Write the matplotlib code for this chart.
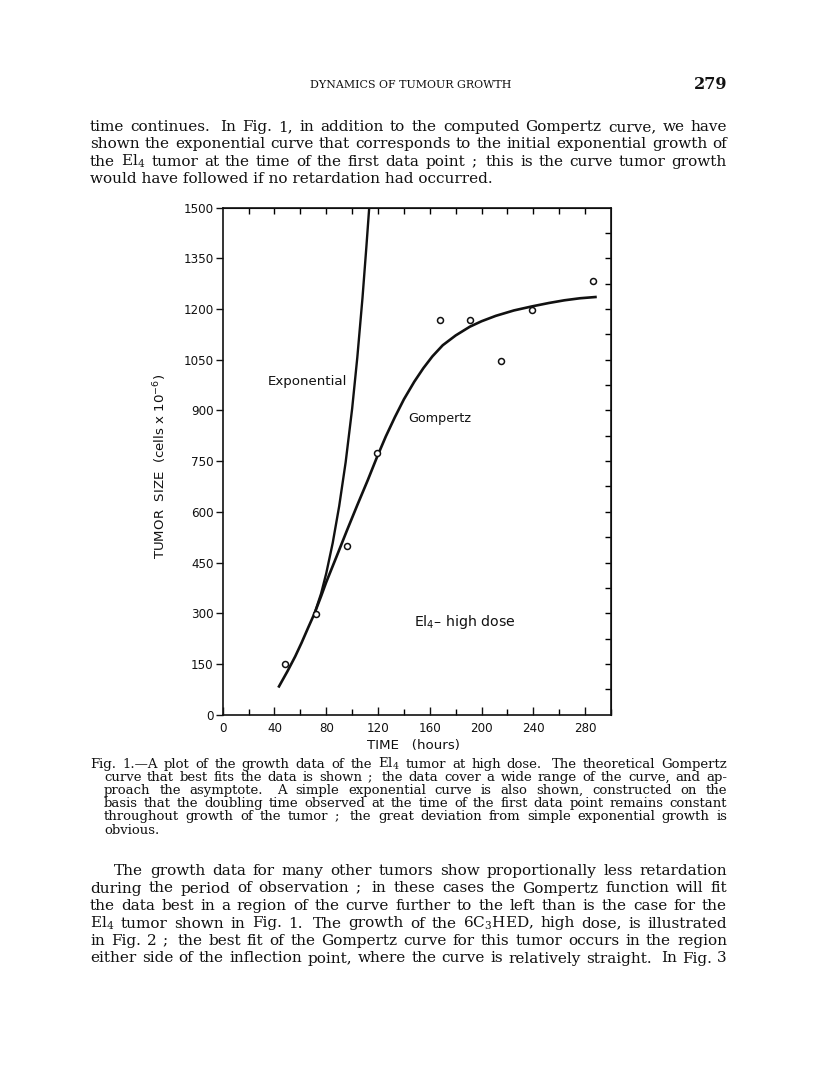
import numpy as np
import matplotlib
matplotlib.use("Agg")
import matplotlib.pyplot as plt

W, H = 816, 1081
SERIF = "DejaVu Serif"
SANS = "DejaVu Sans"
INK = "#111111"

# observed tumour sizes (cells x 10^-6)
obs_time = [48, 72, 96, 119, 168, 191, 215, 239, 286]
obs_size = [150, 298, 498, 775, 1167, 1167, 1046, 1196, 1283]

# fitted Gompertz curve
gomp_time = [43, 50, 56, 61, 66, 71, 76, 80, 88, 96, 104, 112, 119, 126, 133,
             140, 148, 155, 162, 170, 180, 191, 200, 211, 225, 239, 252, 264, 276, 289]
gomp_size = [80, 128, 172, 213, 257, 300, 350, 392, 468, 545, 620, 693, 760, 823, 880,
             933, 985, 1025, 1060, 1093, 1122, 1148, 1164, 1180, 1196, 1208, 1218, 1226, 1232, 1236]

# exponential curve
exp_time = [71, 76, 80, 85, 90, 95, 100, 104, 108, 111, 113.2]
exp_size = [300, 358, 418, 508, 617, 747, 905, 1057, 1233, 1384, 1500]

x_major = np.arange(0, 281, 40)
x_minor = np.arange(0, 301, 20)
y_major = np.arange(0, 1501, 150)
y_right = np.arange(0, 1501, 75)

header = "DYNAMICS OF TUMOUR GROWTH"
page_no = "279"

para1 = [
    "time continues.  In Fig. 1, in addition to the computed Gompertz curve, we have",
    "shown the exponential curve that corresponds to the initial exponential growth of",
    "the El$_4$ tumor at the time of the first data point ;  this is the curve tumor growth",
    "would have followed if no retardation had occurred.",
]
caption = [
    "Fig. 1.\u2014A plot of the growth data of the El$_4$ tumor at high dose.  The theoretical Gompertz",
    "curve that best fits the data is shown ;  the data cover a wide range of the curve, and ap-",
    "proach the asymptote.  A simple exponential curve is also shown, constructed on the",
    "basis that the doubling time observed at the time of the first data point remains constant",
    "throughout growth of the tumor ;  the great deviation from simple exponential growth is",
    "obvious.",
]
para2 = [
    "The growth data for many other tumors show proportionally less retardation",
    "during the period of observation ;  in these cases the Gompertz function will fit",
    "the data best in a region of the curve further to the left than is the case for the",
    "El$_4$ tumor shown in Fig. 1.  The growth of the 6C$_3$HED, high dose, is illustrated",
    "in Fig. 2 ;  the best fit of the Gompertz curve for this tumor occurs in the region",
    "either side of the inflection point, where the curve is relatively straight.  In Fig. 3",
]

plt.rcParams["mathtext.fontset"] = "dejavuserif"

fig = plt.figure(figsize=(W / 100, H / 100), dpi=100, facecolor="white")


def put_line(text, x0, x1, y, size, justify=True):
    """Draw one line of text between pixel x0 and x1, baseline at pixel y."""
    fy = 1 - y / H
    if not justify:
        fig.text(x0 / W, fy, text, fontsize=size, family=SERIF, color=INK, va="baseline")
        return
    words, weights = [], []
    w = 1.0
    for tok in text.split(" "):
        if tok == "":
            w += 0.6
            continue
        words.append(tok)
        weights.append(w)
        w = 1.0
    weights = weights[1:]
    rend = fig.canvas.get_renderer()
    arts = [fig.text(0, fy, s, fontsize=size, family=SERIF, color=INK, va="baseline")
            for s in words]
    widths = [a.get_window_extent(rend).width for a in arts]
    gap = (x1 - x0 - sum(widths)) / max(sum(weights), 1)
    x = x0
    for i, a in enumerate(arts):
        a.set_x(x / W)
        x += widths[i]
        if i < len(weights):
            x += gap * weights[i]


# running head
fig.text(411 / W, 1 - 88 / H, header, fontsize=7.9, family=SERIF, color=INK,
         ha="center", va="baseline")
fig.text(727 / W, 1 - 89 / H, page_no, fontsize=11.5, family=SERIF, color=INK,
         ha="right", va="baseline", weight="bold")

for i, line in enumerate(para1):
    put_line(line, 90, 727, 131 + i * 17.4, 11.0, justify=i < len(para1) - 1)

for i, line in enumerate(caption):
    x0 = 90 if i == 0 else 104
    put_line(line, x0, 727, 768 + i * 13.1, 9.5, justify=i < len(caption) - 1)

for i, line in enumerate(para2):
    x0 = 114 if i == 0 else 90
    put_line(line, x0, 727, 875 + i * 17.5, 11.0)

# chart
ax = fig.add_axes([222.7 / W, 1 - 714.6 / H, (611 - 222.7) / W, (714.6 - 207.7) / H])
ax.plot(gomp_time, gomp_size, color=INK, lw=1.9, solid_capstyle="butt", zorder=3)
ax.plot(exp_time, exp_size, color=INK, lw=1.7, solid_capstyle="butt", zorder=3)
ax.plot(obs_time, obs_size, "o", ms=4.3, mfc="white", mec=INK, mew=1.1, zorder=4)

ax.set_xlim(0, 300)
ax.set_ylim(0, 1500)
for sp in ax.spines.values():
    sp.set_linewidth(1.2)
    sp.set_color(INK)

ax.set_xticks(x_major)
ax.set_xticks(x_minor, minor=True)
ax.set_yticks(y_major)
ax.tick_params(axis="x", which="major", direction="in", length=6, width=1.0, pad=5,
               labelsize=8.6, colors=INK)
ax.tick_params(axis="x", which="minor", direction="in", length=4, width=1.0)
ax.tick_params(axis="y", which="major", direction="out", length=5, width=1.0, pad=1.5,
               labelsize=8.6, colors=INK)
for lab in ax.get_xticklabels() + ax.get_yticklabels():
    lab.set_family(SANS)

top = ax.secondary_xaxis("top")
top.set_xticks(x_minor[1:-1])
top.tick_params(direction="in", length=4.5, width=1.0, labeltop=False)
right = ax.secondary_yaxis("right")
right.set_yticks(y_right[1:-1])
right.tick_params(direction="in", length=4, width=1.0, labelright=False)

ax.text(35, 987, "Exponential", fontsize=9.6, family=SANS, color=INK, va="center")
ax.text(143, 877, "Gompertz", fontsize=9.2, family=SANS, color=INK, va="center")
ax.text(148, 273, "El$_4$\u2013 high dose", fontsize=10.2, family=SANS, color=INK,
        va="center", math_fontfamily="dejavusans")

fig.text(160 / W, 1 - 466 / H, "TUMOR  SIZE  (cells x 10$^{-6}$)", rotation=90,
         fontsize=9.6, family=SANS, color=INK, ha="center", va="center",
         math_fontfamily="dejavusans")
fig.text(413 / W, 1 - 746 / H, "TIME   (hours)", fontsize=9.6, family=SANS, color=INK,
         ha="center", va="center")

fig.savefig("out.png", dpi=100, facecolor="white")
